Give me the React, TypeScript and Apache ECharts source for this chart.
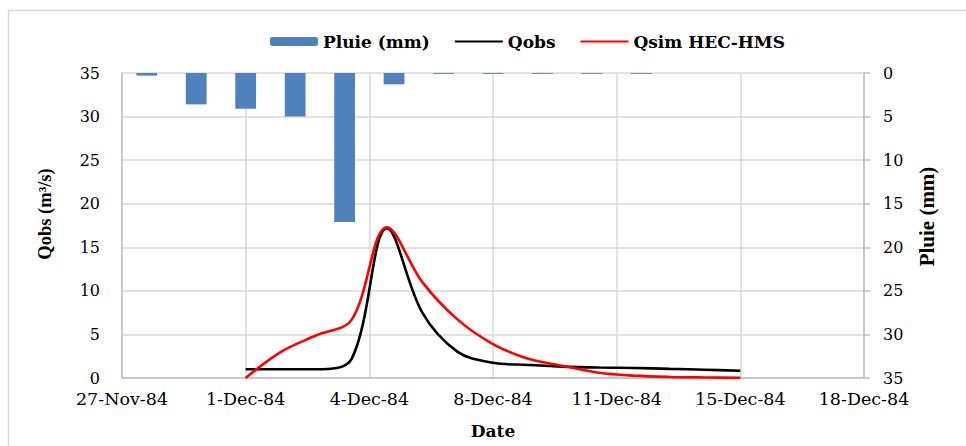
import React, { useEffect, useRef } from "react";
import * as echarts from "echarts";

// X axis tick labels (one every 3.5 days on the date axis)
const xTickLabels = ["27-Nov-84", "1-Dec-84", "4-Dec-84", "8-Dec-84", "11-Dec-84", "15-Dec-84", "18-Dec-84"];

// Daily flow positions on the date axis (days from axis origin): 1-Dec .. 15-Dec
const flowDayPos = [3.5, 4.5, 5.5, 6.5, 7.5, 8.5, 9.5, 10.5, 11.5, 12.5, 13.5, 14.5, 15.5, 16.5, 17.5];
// Observed discharge (m3/s)
const qobs = [1.0, 1.0, 1.0, 2.2, 17.2, 7.5, 3.0, 1.75, 1.5, 1.3, 1.2, 1.15, 1.05, 0.95, 0.84];
// Simulated discharge HEC-HMS (m3/s)
const qsim = [0.0, 3.0, 4.9, 6.7, 17.3, 11.0, 6.7, 3.9, 2.2, 1.38, 0.6, 0.27, 0.12, 0.06, 0.03];

// Rainfall categories (secondary category axis) and values (mm)
const rainCats = ["1", "2", "3", "4", "5", "6", "7", "8", "9", "10", "11", "12", "13", "14", "15"];
const rain = [0.3, 3.6, 4.1, 5.0, 17.1, 1.3, 0.1, 0.1, 0.1, 0.1, 0.1, 0, 0, 0, 0];

const serifWide = "'DejaVu Serif', serif";
const serifTimes = "'Liberation Serif', 'Times New Roman', serif";

export default function App() {
  const ref = useRef<HTMLDivElement>(null);

  useEffect(() => {
    if (!ref.current) return;
    const chart = echarts.init(ref.current, null, { renderer: "svg" });
    const gridColor = "#d9d9d9";
    const axisColor = "#bfbfbf";

    const option: any = {
      animation: false,
      backgroundColor: "#ffffff",
      grid: { left: 122, right: 102, top: 73, bottom: 68, outerBoundsMode: "none" },
      legend: {
        data: [
          { name: "Pluie (mm)" },
          { name: "Qobs", itemStyle: { opacity: 0 } },
          { name: "Qsim HEC-HMS", itemStyle: { opacity: 0 } },
        ],
        left: 265,
        top: 28,
        itemWidth: 48,
        itemHeight: 9,
        itemGap: 24,
        textStyle: { fontFamily: serifWide, fontWeight: "bold", fontSize: 17, color: "#000" },
      },
      xAxis: [
        {
          type: "value",
          min: 0,
          max: 21,
          interval: 3.5,
          position: "bottom",
          axisLine: { show: true, lineStyle: { color: axisColor, width: 1.5 } },
          axisTick: { show: false },
          splitLine: { show: true, lineStyle: { color: gridColor, width: 1.5 } },
          axisLabel: {
            margin: 12,
            fontFamily: serifWide,
            fontSize: 17.5,
            lineHeight: 18,
            color: "#000",
            formatter: (v: number) => xTickLabels[Math.round(v / 3.5)] ?? "",
          },
        },
        {
          type: "category",
          data: rainCats,
          position: "top",
          boundaryGap: true,
          show: false,
        },
      ],
      yAxis: [
        {
          type: "value",
          min: 0,
          max: 35,
          interval: 5,
          position: "left",
          axisLine: { show: true, lineStyle: { color: axisColor, width: 1.5 } },
          axisTick: { show: false },
          splitLine: { show: true, lineStyle: { color: gridColor, width: 1.5 } },
          axisLabel: { margin: 22, fontFamily: serifWide, fontSize: 16, lineHeight: 16, color: "#000" },
        },
        {
          type: "value",
          min: 0,
          max: 35,
          interval: 5,
          inverse: true,
          position: "right",
          axisLine: { show: true, lineStyle: { color: axisColor, width: 1.5 } },
          axisTick: { show: true, length: 6, lineStyle: { color: axisColor, width: 1.5 } },
          splitLine: { show: false },
          axisLabel: { margin: 19, fontFamily: serifWide, fontSize: 16, lineHeight: 16, color: "#000" },
        },
      ],
      series: [
        {
          name: "Pluie (mm)",
          type: "bar",
          xAxisIndex: 1,
          yAxisIndex: 1,
          data: rain,
          barWidth: "42%",
          itemStyle: { color: "#4f81bd" },
        },
        {
          name: "Qobs",
          type: "line",
          xAxisIndex: 0,
          yAxisIndex: 0,
          data: flowDayPos.map((d, i) => [d, qobs[i]]),
          smooth: 0.35,
          symbol: "none",
          lineStyle: { color: "#000000", width: 2.6 },
          itemStyle: { color: "#000000" },
        },
        {
          name: "Qsim HEC-HMS",
          type: "line",
          xAxisIndex: 0,
          yAxisIndex: 0,
          data: flowDayPos.map((d, i) => [d, qsim[i]]),
          smooth: 0.35,
          symbol: "none",
          lineStyle: { color: "#ff0000", width: 2.6 },
          itemStyle: { color: "#ff0000" },
        },
      ],
      graphic: [
        {
          type: "rect",
          silent: true,
          z: -10,
          shape: { x: 8.5, y: 10.5, width: 990, height: 470 },
          style: { fill: "none", stroke: "#d9d9d9", lineWidth: 1.5 },
        },
        {
          type: "text",
          x: 45,
          y: 214,
          rotation: Math.PI / 2,
          style: {
            text: "Qobs (m³/s)",
            font: `bold 18.5px ${serifTimes}`,
            fill: "#000",
            align: "center",
            verticalAlign: "middle",
            textAlign: "center",
            textVerticalAlign: "middle",
          },
        },
        {
          type: "text",
          x: 927,
          y: 216.5,
          rotation: Math.PI / 2,
          style: {
            text: "Pluie (mm)",
            font: `bold 21px ${serifTimes}`,
            fill: "#000",
            align: "center",
            verticalAlign: "middle",
            textAlign: "center",
            textVerticalAlign: "middle",
          },
        },
        {
          type: "text",
          x: 493,
          y: 431,
          style: {
            text: "Date",
            font: `bold 17px ${serifWide}`,
            fill: "#000",
            align: "center",
            verticalAlign: "middle",
            textAlign: "center",
            textVerticalAlign: "middle",
          },
        },
      ],
    };

    chart.setOption(option);
    return () => chart.dispose();
  }, []);

  return (
    <div
      ref={ref}
      style={{ position: "fixed", left: 0, top: 0, width: 966, height: 446, background: "#fff" }}
    />
  );
}
